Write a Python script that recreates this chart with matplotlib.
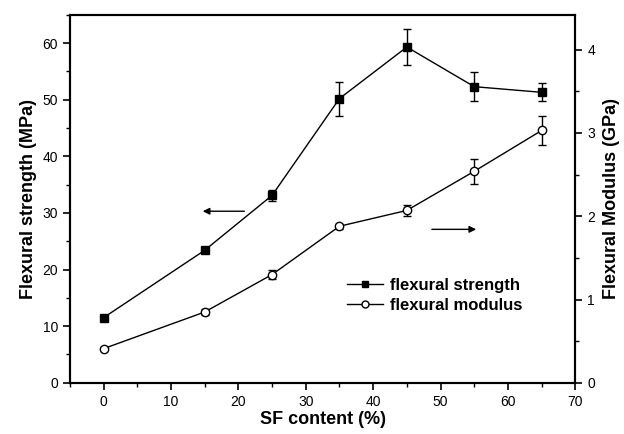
import matplotlib
matplotlib.use("Agg")
import matplotlib.pyplot as plt
from matplotlib.lines import Line2D
from matplotlib.ticker import MultipleLocator

# data
sf_content = [0, 15, 25, 35, 45, 55, 65]
strength = [11.5, 23.4, 33.1, 50.2, 59.3, 52.3, 51.3]
strength_err = [0.4, 0.5, 1.0, 3.0, 3.1, 2.6, 1.6]
modulus = [0.41, 0.85, 1.30, 1.88, 2.07, 2.54, 3.03]
modulus_err = [0.02, 0.04, 0.05, 0.03, 0.07, 0.15, 0.18]

plt.rcParams["font.family"] = ["Liberation Sans", "DejaVu Sans"]

fig = plt.figure(figsize=(6.24, 4.34), dpi=100)
ax = fig.add_axes([0.112, 0.118, 0.810, 0.848])
ax2 = ax.twinx()

ax.errorbar(sf_content, strength, yerr=strength_err, color="black", lw=1.0,
            marker="s", ms=6, mfc="black", mec="black",
            capsize=3, elinewidth=1.0, capthick=1.0)
ax2.errorbar(sf_content, modulus, yerr=modulus_err, color="black", lw=1.0,
             marker="o", ms=6, mfc="white", mec="black", mew=1.0,
             capsize=3, elinewidth=1.0, capthick=1.0)

ax.set_xlim(-5, 70)
ax.set_ylim(0, 65)
ax2.set_ylim(0, 4.42)

ax.xaxis.set_major_locator(MultipleLocator(10))
ax.xaxis.set_minor_locator(MultipleLocator(5))
ax.yaxis.set_major_locator(MultipleLocator(10))
ax.yaxis.set_minor_locator(MultipleLocator(5))
ax2.yaxis.set_major_locator(MultipleLocator(1))
ax2.yaxis.set_minor_locator(MultipleLocator(0.5))

for a in (ax, ax2):
    a.tick_params(which="major", direction="out", length=5, width=1.2, labelsize=10)
    a.tick_params(which="minor", direction="out", length=3, width=1.0)
    for s in a.spines.values():
        s.set_linewidth(1.5)

ax.set_xlabel("SF content (%)", fontsize=13, fontweight="bold", labelpad=2)
ax.set_ylabel("Flexural strength (MPa)", fontsize=13, fontweight="bold", labelpad=4)
ax2.set_ylabel("Flexural Modulus (GPa)", fontsize=13, fontweight="bold", labelpad=6)

# arrows pointing to the corresponding axes
ax.annotate("", xy=(14.3, 30.3), xytext=(21.3, 30.3),
            arrowprops=dict(arrowstyle="-|>", color="black", lw=1.0, mutation_scale=10))
ax.annotate("", xy=(55.7, 27.1), xytext=(48.3, 27.1),
            arrowprops=dict(arrowstyle="-|>", color="black", lw=1.0, mutation_scale=10))

handles = [
    Line2D([], [], color="black", lw=1.0, marker="s", ms=5, mfc="black", mec="black"),
    Line2D([], [], color="black", lw=1.0, marker="o", ms=5, mfc="white", mec="black"),
]
ax.legend(handles, ["flexural strength", "flexural modulus"], loc="lower right",
          bbox_to_anchor=(0.925, 0.15), frameon=False, handlelength=2.2,
          handletextpad=0.4, labelspacing=0.3, prop={"weight": "bold", "size": 12})

fig.savefig("out.png", dpi=100)
